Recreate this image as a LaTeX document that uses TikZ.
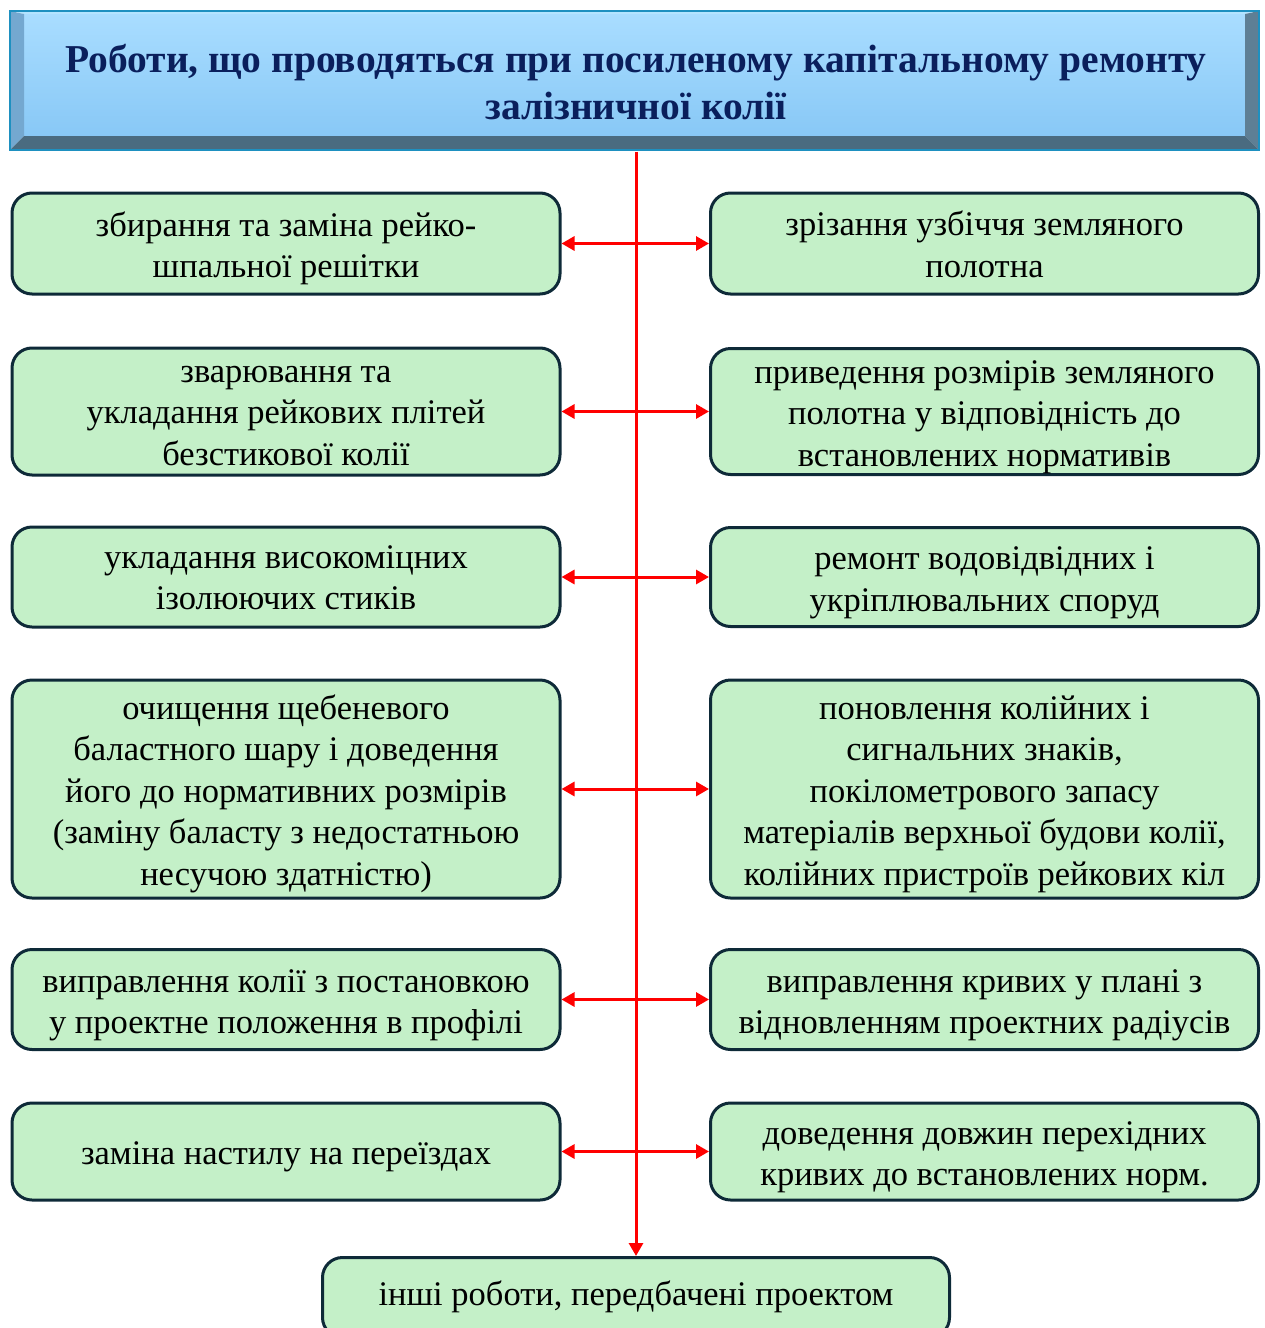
\documentclass[tikz,border=0pt]{standalone}
\usepackage{fontspec}
\setmainfont{Liberation Serif}
\usetikzlibrary{arrows.meta}
\definecolor{boxgreen}{HTML}{C4F0C8}
\definecolor{boxline}{HTML}{0E2A38}
\definecolor{titleblue}{HTML}{0A1F5C}
\definecolor{faceup}{HTML}{A9DDFF}
\definecolor{facedown}{HTML}{88C8F6}
\definecolor{bevelleft}{HTML}{74A8D0}
\definecolor{bevelright}{HTML}{5E7F95}
\definecolor{bevelbottom}{HTML}{4A6B80}
\definecolor{beveltop}{HTML}{B4E4FF}
\definecolor{bevelrim}{HTML}{1E90C0}
\newcommand\topgap[1][34pt]{\rule{0pt}{#1}}
\begin{document}
\begin{tikzpicture}[x=1pt,y=-1pt,
    work/.style={draw=boxline,line width=3pt,fill=boxgreen,rounded corners=20pt,
      minimum width=548pt,align=center,inner sep=0pt,
      font=\fontsize{34.5}{41.5}\selectfont},
    link/.style={red,line width=3pt,
      {Triangle[length=13pt,width=14pt]}-{Triangle[length=13pt,width=14pt]}}]
  \useasboundingbox (0,0) rectangle (1265,1328);
  % header with bevel
  \shade[top color=faceup,bottom color=facedown] (24,14) rectangle (1245,136);
  \fill[beveltop] (10,11) -- (1259,11) -- (1245,14) -- (24,14) -- cycle;
  \fill[bevelleft] (10,11) -- (24,14) -- (24,136) -- (10,150) -- cycle;
  \fill[bevelright] (1259,11) -- (1259,150) -- (1245,136) -- (1245,14) -- cycle;
  \fill[bevelbottom] (10,150) -- (1259,150) -- (1245,136) -- (24,136) -- cycle;
  \draw[bevelrim,line width=1.5pt] (10,11) rectangle (1259,150);
  \node[minimum width=1249pt,minimum height=139pt,align=center,text=titleblue,
    font=\bfseries\fontsize{39.5}{47}\selectfont] (title) at (636,82)
    {Роботи, що проводяться при посиленому капітальному ремонту\\залізничної колії};
  % left column
  \node[work,minimum height=101pt] (l1) at (286,243.5)
    {\topgap збирання та заміна рейко-\\шпальної решітки};
  \node[work,minimum height=127pt] (l2) at (286,411.5)
    {\topgap[25pt]зварювання та\\укладання рейкових плітей\\безстикової колії};
  \node[work,minimum height=100pt] (l3) at (286,577)
    {\topgap[24pt]укладання високоміцних\\ізолюючих стиків};
  \node[work,minimum height=218pt] (l4) at (286,789)
    {\topgap очищення щебеневого\\баластного шару і доведення\\його до нормативних розмірів\\(заміну баласту з недостатньою\\несучою здатністю)};
  \node[work,minimum height=100pt] (l5) at (286,999.5)
    {\topgap виправлення колії з постановкою\\у проектне положення в профілі};
  \node[work,minimum height=97pt] (l6) at (286,1151.5)
    {\topgap заміна настилу на переїздах};
  % right column
  \node[work,minimum height=101pt] (r1) at (984.5,243.5)
    {\topgap[26pt]зрізання узбіччя земляного\\полотна};
  \node[work,minimum height=126pt] (r2) at (984.5,411.5)
    {\topgap приведення розмірів земляного\\полотна у відповідність до\\встановлених нормативів};
  \node[work,minimum height=99pt] (r3) at (984.5,577)
    {\topgap ремонт водовідвідних і\\укріплювальних споруд};
  \node[work,minimum height=218pt] (r4) at (984.5,789)
    {\topgap поновлення колійних і\\сигнальних знаків,\\покілометрового запасу\\матеріалів верхньої будови колії,\\колійних пристроїв рейкових кіл};
  \node[work,minimum height=100pt] (r5) at (984.5,999.5)
    {\topgap виправлення кривих у плані з\\відновленням проектних радіусів};
  \node[work,minimum height=97pt] (r6) at (984.5,1151.5)
    {\topgap доведення довжин перехідних\\кривих до встановлених норм.};
  % last box, cut by the page edge
  \node[work,minimum width=627pt,minimum height=80pt,anchor=north] (other) at (636,1256)
    {\raisebox{8pt}{інші роботи, передбачені проектом}};
  % connectors
  \draw[red,line width=3pt,-{Triangle[length=13pt,width=14pt]}] (title.south) -- (other.north);
  \foreach \i in {1,...,6}
    \draw[link] (l\i.east) -- (r\i.west);
\end{tikzpicture}
\end{document}
